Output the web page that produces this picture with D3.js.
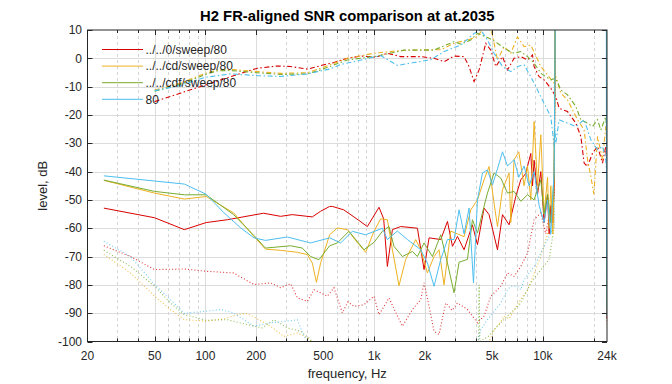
<!DOCTYPE html>
<html><head><meta charset="utf-8">
<script src="https://cdn.jsdelivr.net/npm/d3@7"></script>
<style>body{margin:0;background:#fff}</style>
</head><body><svg id="c" width="672" height="384"></svg>
<script>
const chartTitle = "H2 FR-aligned SNR comparison at at.2035";
const xLabel = "frequency, Hz";
const yLabel = "level, dB";
const seriesNames = ["../../0/sweep/80", "../../cd/sweep/80", "../../cdf/sweep/80", "80"];
const seriesColors = ["#d90000", "#edb120", "#77ac30", "#4dbeee"];
const xTickValues = [20, 50, 100, 200, 500, 1000, 2000, 5000, 10000, 24000];
const xTickLabels = ["20", "50", "100", "200", "500", "1k", "2k", "5k", "10k", "24k"];
const xMinorValues = [30,40,60,70,80,90,300,400,600,700,800,900,3000,4000,6000,7000,8000,9000,20000];
const yTickValues = [10, 0, -10, -20, -30, -40, -50, -60, -70, -80, -90, -100];

// FR (dash-dot) curves: [frequency Hz, dB]
const redFR = [[50,-15.3],[71,-12.3],[100,-9.4],[141,-6.5],[203,-3.5],[267,-2.7],[320,-2.9],[402,-3.8],[504,-2.3],[578,-1.5],[694,0],[832,0.8],[1021,0.4],[1198,1.8],[1437,0.6],[1889,0.6],[2265,0],[2596,-1.2],[2976,0.8],[3412,0.6],[3653,-2.9],[3912,-8.2],[4187,-4.1],[4588,5.3],[4913,2.9],[5260,-2.9],[5765,0.6],[6172,-4.1],[6754,0],[7400,0.6],[8110,-0.6],[8683,1.2],[8876,-2.9],[9506,-6.5],[10172,-7.6],[11148,-10.6],[11938,-13.5],[12486,-17.6],[14004,-18.8],[15688,-22.9],[16796,-27.6],[17568,-37],[18400,-38.2],[19700,-33.5],[21092,-31.1],[22580,-37],[23620,-31],[24000,-41.7]];
const orangeFR = [[50,-11.2],[71,-8.8],[100,-5.3],[118,-4.1],[141,-3.9],[203,-4.7],[279,-5.3],[402,-5.1],[482,-3.5],[694,0],[998,1.8],[1300,2.5],[1575,2.9],[2165,3],[2482,3],[2976,5.3],[3574,6.5],[4097,7.6],[4482,11],[4800,12],[5027,8.2],[5383,-0.6],[5893,4.1],[6456,1.8],[7074,7.6],[7740,4.1],[8484,4.7],[9727,-2.9],[10660,-5.9],[11666,-8.8],[11938,-6.5],[12782,-12.3],[14004,-14.7],[14998,-18.2],[16056,-21.7],[17568,-25.3],[18400,-35.8],[19250,-41.7],[20060,-48],[21092,-27.6],[22580,-35.8],[23620,-24],[24000,-30]];
const greenFR = [[50,-11.6],[71,-9.2],[100,-5.7],[118,-4.4],[141,-4.3],[203,-5.1],[279,-5.7],[402,-5.5],[482,-4.1],[694,-0.6],[1045,0.8],[1503,2.9],[2265,2.9],[2976,5.9],[3262,5],[3738,6.5],[4097,8.8],[4588,7.6],[5027,6.5],[5383,5.3],[6172,2.9],[6754,1.8],[7400,2.4],[8110,0.6],[8876,-1.7],[9727,-5.3],[11148,-7.6],[11938,-7],[12782,-11.2],[14004,-12.9],[15688,-17],[16796,-21.7],[18400,-22.9],[19700,-24.1],[21092,-21.7],[22060,-25.3],[23620,-20.6],[24000,-28.8]];
const cyanFR = [[50,-11.4],[71,-9.6],[100,-6.7],[141,-5.5],[203,-6.1],[279,-6.4],[402,-5.5],[553,-3.7],[633,-2.2],[796,-0.9],[1093,1],[1374,-2.5],[1724,-1.5],[2165,-0.5],[2596,2.4],[3262,4.7],[3912,8.8],[4285,10],[4695,6.5],[5137,1.8],[5765,-2.9],[6456,-4.7],[7074,-2.9],[7740,-2.3],[8484,-6.5],[9300,-11.2],[10172,-15.9],[11148,-20.6],[11666,-31.1],[11800,-25.3],[11938,-30],[12486,-21.7],[14004,-22.9],[15688,-24.1],[17568,-21.7],[19250,-28.8],[21092,-32.3],[22580,-31.1],[23620,-35.8],[24000,-42.9]];

// SNR (solid) curves
const redSNR = [[25,-52.9],[50,-56.3],[75,-60.5],[101,-58],[135,-57],[221,-54.7],[279,-55.8],[327,-55.2],[430,-56],[482,-54],[545,-52.3],[566,-52.3],[660,-53.5],[759,-56],[912,-59.4],[1069,-52.6],[1139,-56.7],[1198,-73.5],[1283,-60.5],[1437,-59.4],[1805,-60],[1976,-74.6],[2116,-63.4],[2482,-64],[2720,-57.6],[2912,-66.4],[3118,-62.9],[3412,-67.6],[3825,-58.8],[4097,-65.8],[4482,-52.9],[4800,-55.2],[5383,-67.6],[5765,-55.2],[6307,-58.8],[6912,-48.8],[7400,-42.9],[7920,-40.6],[8484,-33.6],[8683,-45],[8876,-36],[9300,-48],[9727,-40],[10172,-58],[10660,-48],[10894,-62],[11148,-52],[11460,-58],[11666,-45],[11900,30],[23900,30],[24000,-92]];
const orangeSNR = [[25,-43.1],[50,-47.6],[75,-49.7],[101,-48.8],[147,-54.6],[194,-62.9],[227,-67.4],[279,-67.8],[351,-68.5],[402,-69.3],[430,-72.3],[455,-79.1],[482,-72.2],[545,-62.3],[605,-59.9],[694,-60.5],[796,-65.1],[891,-68.5],[998,-61.1],[1093,-56.7],[1198,-57],[1283,-67.6],[1404,-80.3],[1538,-71],[1764,-64],[1889,-67.6],[2069,-75.8],[2265,-70],[2425,-67.6],[2596,-80],[2845,-61],[3118,-62],[3412,-63],[3738,-53.5],[4097,-50],[4482,-42.9],[4800,-38.2],[5137,-51.1],[5383,-59.4],[5765,-46.4],[6307,-40.5],[6456,-58],[6754,-35.8],[7200,-33],[7740,-45],[8110,-38],[8484,-50],[8876,-22.3],[9300,-45],[9727,-27],[10172,-55],[10660,-42],[10894,-60],[11148,-45],[11460,-62],[11666,-40],[11900,30],[23900,30],[24000,-90]];
const greenSNR = [[25,-43],[50,-47],[75,-48.2],[101,-48.2],[147,-55.2],[194,-62.6],[227,-67],[320,-66.2],[375,-67],[420,-70],[471,-71.1],[545,-66.2],[605,-65.2],[709,-61.1],[871,-67.6],[998,-65],[1119,-61.1],[1225,-59.4],[1311,-66.4],[1471,-70],[1686,-68.2],[1805,-70],[1976,-65.2],[2216,-70],[2482,-62.3],[2720,-72.3],[2976,-82.8],[3188,-72],[3574,-71],[3825,-57],[4097,-61.7],[4482,-52.3],[4695,-47.6],[5137,-40.5],[5632,-42.3],[6172,-47.6],[6754,-47],[7400,-50.5],[8110,-48.2],[8876,-50],[9727,-42.9],[10172,-55],[10660,-48],[11148,-58],[11460,-50],[11666,-40],[11900,30],[23900,30],[24000,-88]];
const cyanSNR = [[25,-41.5],[75,-44.4],[101,-48],[129,-54.6],[162,-59.9],[194,-63.4],[227,-64.3],[306,-63.1],[420,-65.2],[545,-63.4],[633,-65.2],[743,-61.1],[891,-62.3],[1119,-60],[1198,-64],[1374,-61],[1575,-64],[1889,-67.6],[2069,-72.3],[2265,-80.5],[2482,-71],[2720,-64],[2976,-64],[3188,-53.5],[3412,-62],[3653,-52.9],[3880,-79.3],[4097,-50],[4385,-40.5],[4695,-39.4],[5027,-44.7],[5383,-39],[5765,-33],[6172,-38],[6754,-35.8],[7200,-42],[7740,-38],[8289,-45],[8876,-40],[9506,-52],[10172,-58],[10660,-50],[11148,-62],[11460,-48],[11666,-40],[11900,30],[23750,30],[23850,-60],[24000,-91]];

// noise (dotted) curves
const redNoise = [[25,-66.2],[36,-70],[50,-74.6],[75,-74.4],[101,-75.2],[147,-75.8],[194,-79.9],[243,-79.3],[279,-81],[320,-79.6],[351,-84.6],[402,-85.8],[440,-81.7],[482,-82.8],[528,-84],[578,-81],[648,-89.9],[700,-86],[759,-87.6],[871,-87],[998,-84],[1069,-90.5],[1225,-84.6],[1374,-91],[1471,-94.6],[1686,-88.7],[1889,-85.2],[1976,-79.3],[2116,-87.6],[2265,-96.4],[2425,-97.5],[2657,-86.4],[2900,-89],[3118,-86.4],[3574,-88.7],[4097,-93.4],[4482,-91],[4913,-84],[5632,-80.5],[6172,-75.8],[6754,-77],[7400,-73.5],[8110,-68.8],[8876,-57],[9727,-54.6],[10400,-62],[11148,-52.3],[11666,-48],[11900,30],[23900,30],[24000,-93]];
const orangeNoise = [[25,-69.3],[36,-75.8],[50,-84],[62,-88.7],[75,-92.3],[101,-92.8],[129,-92],[155,-90.5],[177,-90.1],[203,-92],[243,-94.6],[292,-98.2],[351,-97],[402,-98.7],[440,-101],[480,-106],[4300,-106],[4800,-100],[5137,-96],[5632,-93],[5893,-91],[6307,-92],[6754,-89],[7400,-85],[8110,-82],[8876,-76],[9727,-70],[10660,-62],[11148,-53.5],[11666,-45],[11900,30],[23900,30],[24000,-95]];
const greenNoise = [[25,-67.8],[36,-73.5],[50,-80.5],[62,-86.4],[75,-90.5],[101,-92.5],[135,-92.3],[177,-94],[217,-95.2],[255,-92.3],[306,-95.2],[367,-96.4],[420,-99.3],[460,-106],[4100,-106],[4150,-100],[4190,-80],[4230,-100],[4800,-98],[5137,-95.8],[6172,-91],[7400,-86.4],[8484,-79.3],[9727,-74.6],[10894,-71.1],[11666,-59.4],[11900,30],[23900,30],[24000,-90]];
const cyanNoise = [[25,-64.6],[36,-70],[50,-79.9],[65,-86.4],[75,-90.1],[101,-89.3],[123,-88.7],[147,-89.9],[194,-94.6],[243,-93.4],[306,-92.8],[351,-92.3],[384,-98.2],[420,-101],[450,-106],[3900,-106],[4285,-95.8],[4695,-92.3],[5632,-86.4],[6172,-81.7],[6456,-80.5],[7074,-80.5],[7400,-81.7],[7740,-78.2],[8876,-73.5],[10172,-66.4],[11666,-59.5],[11900,30],[23900,30],[24000,-91]];

const frSeries = [redFR, orangeFR, greenFR, cyanFR];
const snrSeries = [redSNR, orangeSNR, greenSNR, cyanSNR];
const noiseSeries = [redNoise, orangeNoise, greenNoise, cyanNoise];

const W = 672, H = 384;
const m = {left: 87.5, right: 607, top: 30, bottom: 341.5};
const svg = d3.select("#c");
const x = d3.scaleLog().domain([20, 24000]).range([m.left, m.right]);
const y = d3.scaleLinear().domain([-100, 10]).range([m.bottom, m.top]);
const axisColor = "#262626";
const font = "'Liberation Sans', Arial, sans-serif";

svg.append("rect").attr("width", W).attr("height", H).attr("fill", "#fff");

// grid
const g = svg.append("g");
g.selectAll(".minor").data(xMinorValues).enter().append("line")
  .attr("x1", d => Math.round(x(d)) + 0.5).attr("x2", d => Math.round(x(d)) + 0.5)
  .attr("y1", m.top).attr("y2", m.bottom)
  .attr("stroke", "#d4d4d4").attr("stroke-dasharray", "3,3").attr("stroke-width", 1);
g.selectAll(".majx").data(xTickValues.slice(1, -1)).enter().append("line")
  .attr("x1", d => Math.round(x(d)) + 0.5).attr("x2", d => Math.round(x(d)) + 0.5)
  .attr("y1", m.top).attr("y2", m.bottom)
  .attr("stroke", "#dcdcdc").attr("stroke-width", 1);
g.selectAll(".majy").data(yTickValues.slice(1, -1)).enter().append("line")
  .attr("y1", d => Math.round(y(d)) + 0.5).attr("y2", d => Math.round(y(d)) + 0.5)
  .attr("x1", m.left).attr("x2", m.right)
  .attr("stroke", "#dcdcdc").attr("stroke-width", 1);

// clip
svg.append("clipPath").attr("id", "clip").append("rect")
  .attr("x", m.left).attr("y", m.top).attr("width", m.right - m.left).attr("height", m.bottom - m.top);
const plot = svg.append("g").attr("clip-path", "url(#clip)");
const line = d3.line().x(d => x(d[0])).y(d => y(d[1]));

noiseSeries.forEach((s, i) => {
  plot.append("path").attr("d", line(s)).attr("fill", "none")
    .attr("stroke", seriesColors[i]).attr("stroke-width", 1.1)
    .attr("stroke-dasharray", "1,2.2").attr("opacity", 0.8);
});
frSeries.forEach((s, i) => {
  plot.append("path").attr("d", line(s)).attr("fill", "none")
    .attr("stroke", seriesColors[i]).attr("stroke-width", 1.1)
    .attr("stroke-dasharray", "5,2.5,1.5,2.5");
});
snrSeries.forEach((s, i) => {
  plot.append("path").attr("d", line(s)).attr("fill", "none")
    .attr("stroke", seriesColors[i]).attr("stroke-width", 1);
});

// axes frame and ticks
const ax = svg.append("g");
ax.append("rect").attr("x", m.left).attr("y", m.top).attr("width", m.right - m.left).attr("height", m.bottom - m.top)
  .attr("fill", "none").attr("stroke", axisColor).attr("stroke-width", 1);
const xt = xTickValues.slice(1, -1);
[[m.bottom, -1], [m.top, 1]].forEach(([yy, dir]) => {
  ax.selectAll(null).data(xt).enter().append("line")
    .attr("x1", d => Math.round(x(d)) + 0.5).attr("x2", d => Math.round(x(d)) + 0.5)
    .attr("y1", yy).attr("y2", yy + dir * 5).attr("stroke", axisColor);
  ax.selectAll(null).data(xMinorValues).enter().append("line")
    .attr("x1", d => Math.round(x(d)) + 0.5).attr("x2", d => Math.round(x(d)) + 0.5)
    .attr("y1", yy).attr("y2", yy + dir * 3).attr("stroke", axisColor);
});
[[m.left, 1], [m.right, -1]].forEach(([xx, dir]) => {
  ax.selectAll(null).data(yTickValues).enter().append("line")
    .attr("y1", d => Math.round(y(d)) + 0.5).attr("y2", d => Math.round(y(d)) + 0.5)
    .attr("x1", xx).attr("x2", xx + dir * 5).attr("stroke", axisColor);
});
ax.selectAll(null).data(xTickValues).enter().append("text")
  .attr("x", d => x(d)).attr("y", 360).attr("text-anchor", "middle")
  .attr("font-family", font).attr("font-size", 12).attr("fill", axisColor)
  .text((d, i) => xTickLabels[i]);
ax.selectAll(null).data(yTickValues).enter().append("text")
  .attr("x", 82).attr("y", d => y(d) + 4.2).attr("text-anchor", "end")
  .attr("font-family", font).attr("font-size", 12).attr("fill", axisColor)
  .text(d => d);

svg.append("text").attr("x", (m.left + m.right) / 2).attr("y", 378).attr("text-anchor", "middle")
  .attr("font-family", font).attr("font-size", 13).attr("fill", axisColor).text(xLabel);
svg.append("text").attr("transform", `translate(47,${(m.top + m.bottom) / 2}) rotate(-90)`)
  .attr("text-anchor", "middle").attr("font-family", font).attr("font-size", 13).attr("fill", axisColor).text(yLabel);
svg.append("text").attr("x", (m.left + m.right) / 2).attr("y", 20.5).attr("text-anchor", "middle")
  .attr("font-family", font).attr("font-size", 14.8).attr("font-weight", "bold").attr("fill", "#000").text(chartTitle);

// legend
const lg = svg.append("g");
seriesNames.forEach((n, i) => {
  const ly = 49.5 + i * 16.6;
  lg.append("line").attr("x1", 102).attr("x2", 143).attr("y1", ly).attr("y2", ly)
    .attr("stroke", seriesColors[i]).attr("stroke-width", 1);
  lg.append("text").attr("x", 145.5).attr("y", ly + 4.3).attr("font-family", font).attr("font-size", 12)
    .attr("fill", axisColor).text(n);
});
</script></body></html>
